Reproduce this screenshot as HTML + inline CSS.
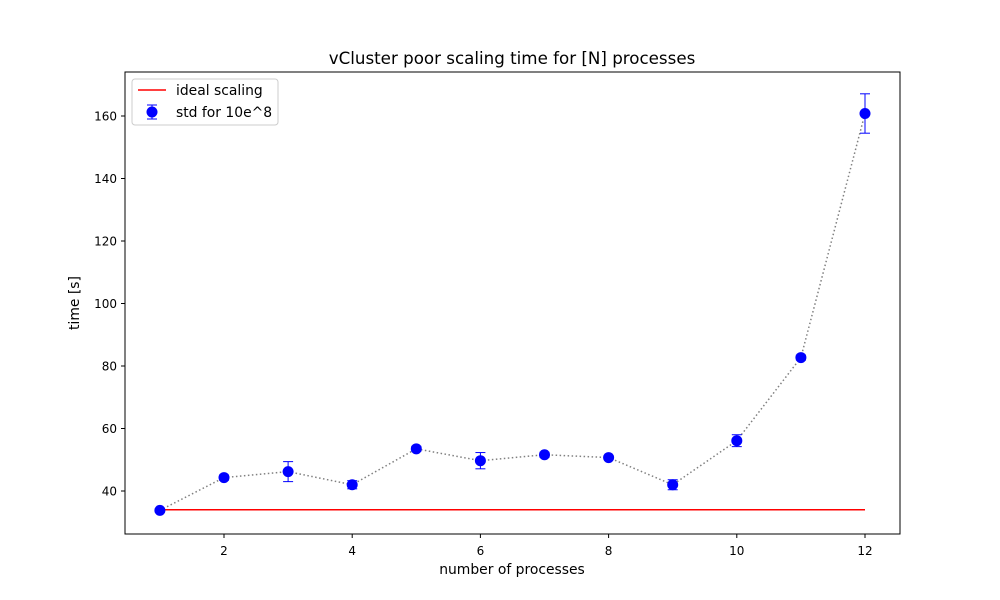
<!DOCTYPE html>
<html><head><meta charset="utf-8"><style>body{margin:0;background:#fff}svg{display:block}text{font-family:"DejaVu Sans","Liberation Sans",sans-serif;fill:#000}</style></head>
<body>
<svg id="chart" width="1000" height="600">
<rect x="0" y="0" width="1000" height="600" fill="#fff"/>
<text x="512" y="64" font-size="16.7" text-anchor="middle">vCluster poor scaling time for [N] processes</text>
<text x="512" y="574" font-size="13.9" text-anchor="middle">number of processes</text>
<text x="79" y="303" font-size="13.9" text-anchor="middle" transform="rotate(-90 79 303)">time [s]</text>
<g id="ticks"></g>
<g id="marks"></g>
<rect x="125" y="72" width="775" height="462" fill="none" stroke="#000" stroke-width="1"/>
<g>
<rect x="132" y="79" width="146" height="46" rx="3" fill="#fff" fill-opacity="0.8" stroke="#ccc"/>
<line x1="138" y1="90" x2="166" y2="90" stroke="red" stroke-width="1.5"/>
<text x="176" y="95" font-size="13.9">ideal scaling</text>
<line x1="152" y1="105" x2="152" y2="119" stroke="blue"/>
<line x1="147" y1="105" x2="157" y2="105" stroke="blue"/>
<line x1="147" y1="119" x2="157" y2="119" stroke="blue"/>
<circle cx="152" cy="112" r="5.5" fill="blue"/>
<text x="176" y="117" font-size="13.9">std for 10e^8</text>
</g>
</svg>
<script>
const processes=[1,2,3,4,5,6,7,8,9,10,11,12];
const times=[33.8,44.3,46.2,42.0,53.5,49.7,51.6,50.7,42.0,56.1,82.7,160.8];
const stds=[0.6,0.8,3.2,1.3,0.8,2.6,0.8,0.6,1.6,1.9,0.8,6.3];
const idealTime=34.0;
const xTicks=[2,4,6,8,10,12];
const yTicks=[40,60,80,100,120,140,160];
const NS="http://www.w3.org/2000/svg";
const X=v=>224+(v-2)*64.1;
const Y=v=>491-(v-40)*3.125;
function mk(tag,attrs,parent){const e=document.createElementNS(NS,tag);for(const k in attrs)e.setAttribute(k,attrs[k]);parent.appendChild(e);return e;}
const tg=document.getElementById('ticks'),mg=document.getElementById('marks');
xTicks.forEach(t=>{
 const l=mk('line',{x1:X(t),x2:X(t),y1:534,y2:538,stroke:'#000'},tg);
 
 
 const s=mk('text',{x:X(t),y:555,'font-size':12,'text-anchor':'middle'},tg);s.textContent=t;
 
 
});
yTicks.forEach(t=>{
 const l=mk('line',{x1:121,x2:125,y1:Y(t),y2:Y(t),stroke:'#000'},tg);
 
 
 const s=mk('text',{x:117,y:Y(t)+4.5,'font-size':12,'text-anchor':'end'},tg);s.textContent=t;
 
 
});
const ideal=mk('line',{x1:X(processes[0]),x2:X(processes[processes.length-1]),y1:Y(idealTime),y2:Y(idealTime),stroke:'red','stroke-width':1.5},mg);


const pl=mk('polyline',{points:processes.map((p,i)=>X(p)+','+Y(times[i])).join(' '),fill:'none',stroke:'gray','stroke-width':1.5,'stroke-dasharray':'1.5,2.5'},mg);


processes.forEach((p,i)=>{
 const x=X(p),y1=Y(times[i]+stds[i]),y2=Y(times[i]-stds[i]);
 const g=mk('g',{},mg);
 
 
 mk('line',{x1:x,x2:x,y1:y1,y2:y2,stroke:'blue'},g);
 mk('line',{x1:x-5,x2:x+5,y1:y1,y2:y1,stroke:'blue'},g);
 mk('line',{x1:x-5,x2:x+5,y1:y2,y2:y2,stroke:'blue'},g);
 mk('circle',{cx:x,cy:Y(times[i]),r:5.5,fill:'blue'},g);
});
</script>
</body></html>
